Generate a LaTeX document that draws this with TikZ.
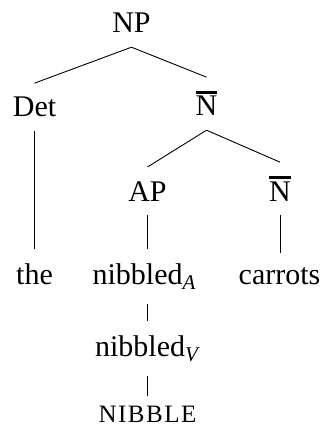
\documentclass[tikz,border=0pt]{standalone}
\usepackage{fontspec}
\setmainfont{Liberation Serif}
\usepackage{tikz}

% category with a bar over it, and a lowered italic subscript
\newcommand{\barcat}[1]{\vbox{\hrule height 2.5pt\kern 2.5pt\hbox{#1}}}
\newcommand{\lexsub}[1]{\raisebox{-5.5pt}{\fontsize{21}{21}\selectfont\itshape #1}}

\begin{document}
\begin{tikzpicture}[x=1pt, y=1pt,
        font=\fontsize{30}{36}\selectfont,
        every node/.style={anchor=base, inner xsep=2pt, inner ysep=14pt},
        branch/.style={line width=0.9pt}]
        \useasboundingbox (0,0) rectangle (325,-427);
        \node (np) at (131.5, -33) {NP};
        \node (det) at (34.5, -117) {Det};
        \node (nbar) at (206.5, -116) {\barcat{N}};
        \node (ap) at (147.5, -201) {AP};
        \node (nbarr) at (280, -201) {\barcat{N}};
        \node (the) at (34.5, -284) {the};
        \node (nibA) at (144, -284) {nibbled\lexsub{A}};
        \node (carrots) at (279.5, -284) {carrots};
        \node (nibV) at (146.5, -356) {nibbled\lexsub{V}};
        \node (nibble) [inner ysep=9pt] at (147.5, -422)
                {\fontsize{25}{30}\selectfont\addfontfeatures{LetterSpace=6}NIBBLE};
        \draw (np.south) edge [branch] (det.north);
        \draw (np.south) edge [branch] (nbar.north);
        \draw (nbar.south) edge [branch] (ap.north);
        \draw (nbar.south) edge [branch] (nbarr.north);
        \draw (det.south) edge [branch] (the.north);
        \draw (ap.south) edge [branch] (ap.south |- nibA.north);
        \draw (nbarr.south) edge [branch] (nbarr.south |- carrots.north);
        \draw (ap.south |- nibA.south) edge [branch] (ap.south |- nibV.north);
        \draw (ap.south |- nibV.south) edge [branch] (ap.south |- nibble.north);
\end{tikzpicture}
\end{document}
